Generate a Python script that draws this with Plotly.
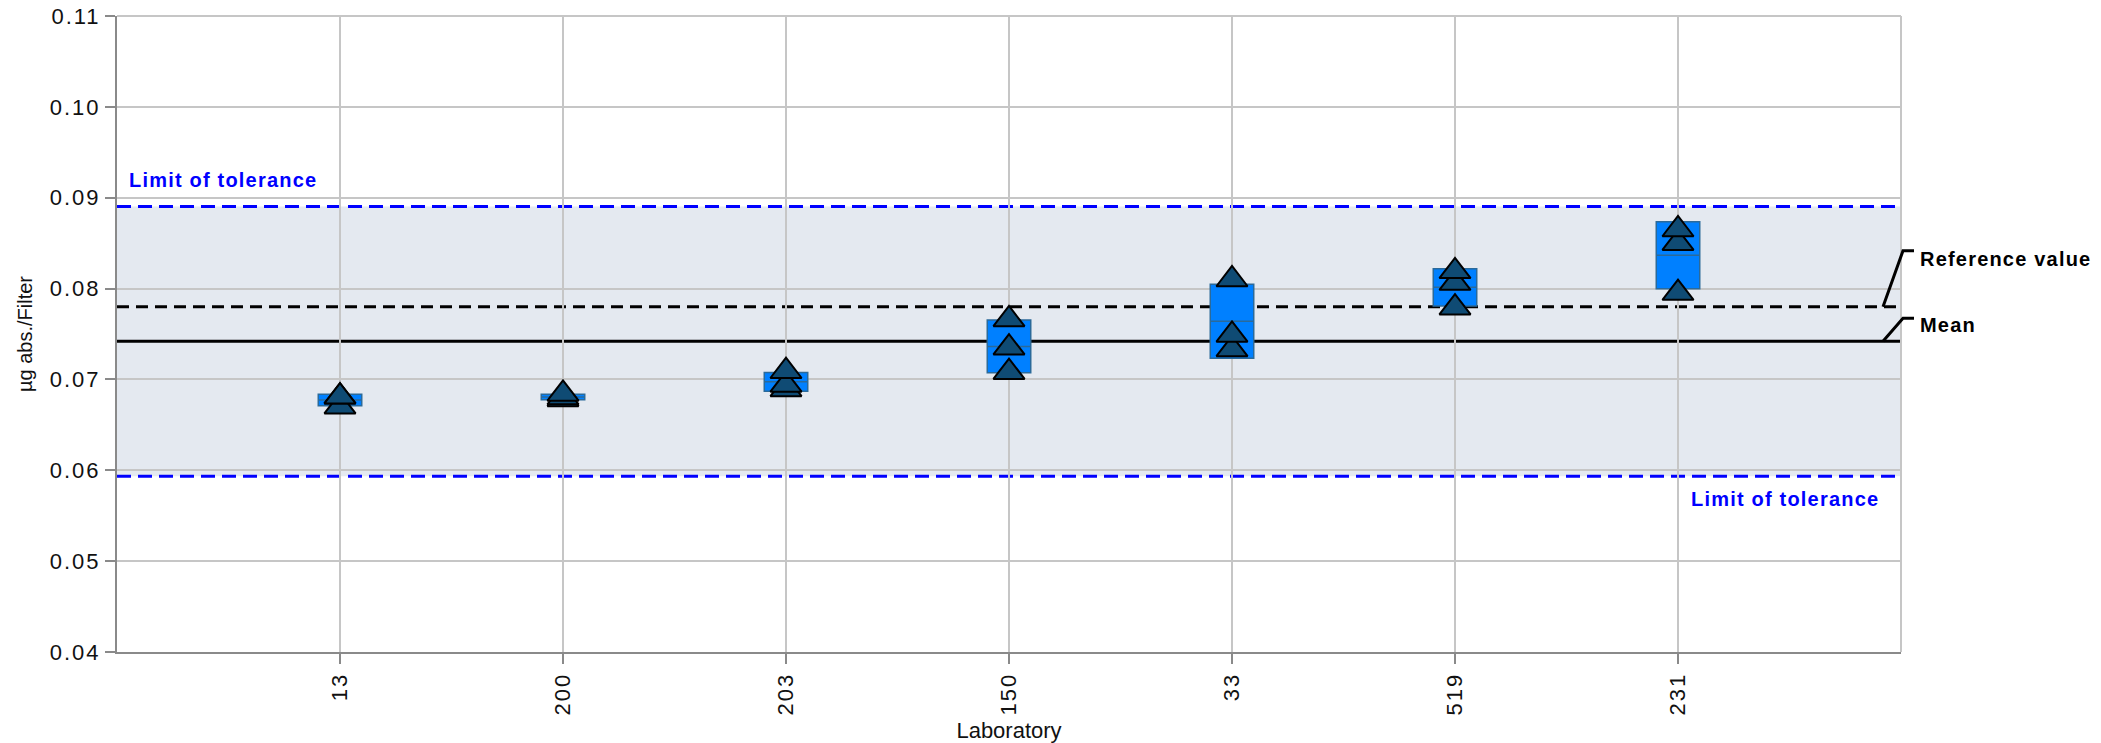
import numpy as np
import plotly.graph_objects as go

# ---------------- data ----------------
labs = ["13", "200", "203", "150", "33", "519", "231"]
lab_13 = [0.0670, 0.0681, 0.0681]
lab_200 = [0.0678, 0.0680, 0.0684]
lab_203 = [0.0689, 0.0694, 0.0709]
lab_150 = [0.0708, 0.0735, 0.0766]
lab_33 = [0.0733, 0.0749, 0.0810]
lab_519 = [0.0779, 0.0806, 0.0819]
lab_231 = [0.0795, 0.0850, 0.0865]
reference_value = 0.078
tolerance_fraction = 0.20
y_ticks = [0.04, 0.05, 0.06, 0.07, 0.08, 0.09, 0.10, 0.11]

results = [lab_13, lab_200, lab_203, lab_150, lab_33, lab_519, lab_231]

# ---------------- statistics ----------------
means = [float(np.mean(v)) for v in results]
sds = [float(np.std(v, ddof=1)) for v in results]
lower = [m - s for m, s in zip(means, sds)]
upper = [m + s for m, s in zip(means, sds)]
grand_mean = float(np.mean(np.concatenate(results)))
tol_hi = grand_mean * (1 + tolerance_fraction)
tol_lo = grand_mean * (1 - tolerance_fraction)

pts_x, pts_y = [], []
for lab, vals in zip(labs, results):
    for v in sorted(vals):
        pts_x.append(lab)
        pts_y.append(v)

FONT = "Liberation Sans, Arial, Helvetica, sans-serif"


def spaced(t, px=1.2):
    return '<span style="letter-spacing:%spx">%s</span>' % (px, t)


fig = go.Figure()

fig.add_trace(go.Box(
    x=labs, q1=lower, median=means, q3=upper,
    lowerfence=lower, upperfence=upper,
    width=0.195, whiskerwidth=0,
    fillcolor="#0080ff",
    line=dict(color="#2b6a9a", width=1.5),
    boxpoints=False, hoverinfo="skip",
))

fig.add_trace(go.Scatter(
    x=pts_x, y=pts_y, mode="markers",
    marker=dict(symbol="triangle-up", size=27, color="#0f4b74",
                line=dict(color="black", width=2)),
    hoverinfo="skip",
))

GRID = "#c6c6c6"

shapes = [
    dict(type="rect", xref="paper", yref="y", x0=0, x1=1, y0=tol_lo, y1=tol_hi,
         fillcolor="#e4e9f0", line=dict(width=0), layer="below"),
    dict(type="line", xref="paper", yref="y", x0=0, x1=1, y0=tol_hi, y1=tol_hi,
         line=dict(color="#0000ff", width=3, dash="14px,7px"), layer="between"),
    dict(type="line", xref="paper", yref="y", x0=0, x1=1, y0=tol_lo, y1=tol_lo,
         line=dict(color="#0000ff", width=3, dash="14px,7px"), layer="between"),
    dict(type="line", xref="paper", yref="y", x0=0, x1=1, y0=reference_value, y1=reference_value,
         line=dict(color="black", width=3, dash="12px,7px"), layer="between"),
    dict(type="line", xref="paper", yref="y", x0=0, x1=1, y0=grand_mean, y1=grand_mean,
         line=dict(color="black", width=3), layer="between"),
    # plot frame (right and top), in grid colour
    dict(type="line", xref="paper", yref="paper", x0=1, x1=1, y0=0, y1=1,
         line=dict(color=GRID, width=2), layer="between"),
    dict(type="line", xref="paper", yref="paper", x0=0, x1=1, y0=1, y1=1,
         line=dict(color=GRID, width=2), layer="between"),
    # leader lines for labels
    dict(type="path", xref="paper", yref="y", xsizemode="pixel", ysizemode="pixel",
         xanchor=1, yanchor=reference_value, path="M-18,0 L2,56 L13,56",
         line=dict(color="black", width=3), fillcolor="rgba(0,0,0,0)"),
    dict(type="path", xref="paper", yref="y", xsizemode="pixel", ysizemode="pixel",
         xanchor=1, yanchor=grand_mean, path="M-18,0 L2,23 L13,23",
         line=dict(color="black", width=3), fillcolor="rgba(0,0,0,0)"),
]

label_font_blue = dict(family=FONT, size=20, color="#0000ff", weight="bold")
label_font_black = dict(family=FONT, size=20, color="black", weight="bold")

annotations = [
    dict(text=spaced("Limit of tolerance"), xref="paper", yref="y", x=0, y=tol_hi,
         xanchor="left", yanchor="middle", xshift=10, yshift=26,
         showarrow=False, font=label_font_blue),
    dict(text=spaced("Limit of tolerance"), xref="paper", yref="y", x=1, y=tol_lo,
         xanchor="right", yanchor="middle", xshift=-20, yshift=-23,
         showarrow=False, font=label_font_blue),
    dict(text=spaced("Reference value"), xref="paper", yref="y", x=1, y=reference_value,
         xanchor="left", yanchor="middle", xshift=17, yshift=48,
         showarrow=False, font=label_font_black),
    dict(text=spaced("Mean"), xref="paper", yref="y", x=1, y=grand_mean,
         xanchor="left", yanchor="middle", xshift=17, yshift=16,
         showarrow=False, font=label_font_black),
]

fig.update_layout(
    width=2101, height=743,
    margin=dict(l=117, r=200, t=16, b=91, autoexpand=False),
    plot_bgcolor="white", paper_bgcolor="white",
    showlegend=False,
    font=dict(family=FONT, color="#111111"),
    shapes=shapes, annotations=annotations,
)

fig.update_xaxes(
    type="category", categoryorder="array", categoryarray=labs,
    range=[-1, 7], automargin=False,
    tickmode="array", tickvals=labs, ticktext=[spaced(l, 2) for l in labs],
    showgrid=True, gridcolor=GRID, gridwidth=2,
    showline=True, linecolor="#8a8a8a", linewidth=2,
    ticks="outside", ticklen=10, tickwidth=2, tickcolor="#8a8a8a",
    tickangle=-90, tickfont=dict(size=22, color="#111111"),
    ticklabeloverflow="allow",
    title=dict(text="Laboratory", font=dict(size=22, color="#111111"), standoff=10),
    zeroline=False,
)
fig.update_yaxes(
    range=[0.04, 0.11], automargin=False,
    tickmode="array", tickvals=y_ticks,
    ticktext=[spaced("%.2f" % v, 2) for v in y_ticks],
    showgrid=True, gridcolor=GRID, gridwidth=2,
    showline=True, linecolor="#8a8a8a", linewidth=2,
    ticks="outside", ticklen=10, tickwidth=2, tickcolor="#8a8a8a",
    tickfont=dict(size=22, color="#111111"),
    ticklabeloverflow="allow",
    title=dict(text="µg abs./Filter", font=dict(size=20, color="#111111"), standoff=12),
    zeroline=False,
)

# remove the browser's default 8px body margin so the figure sits at the page origin
fig.write_html("out.html", config={"displayModeBar": False},
               post_script="document.body.style.margin='0';")
